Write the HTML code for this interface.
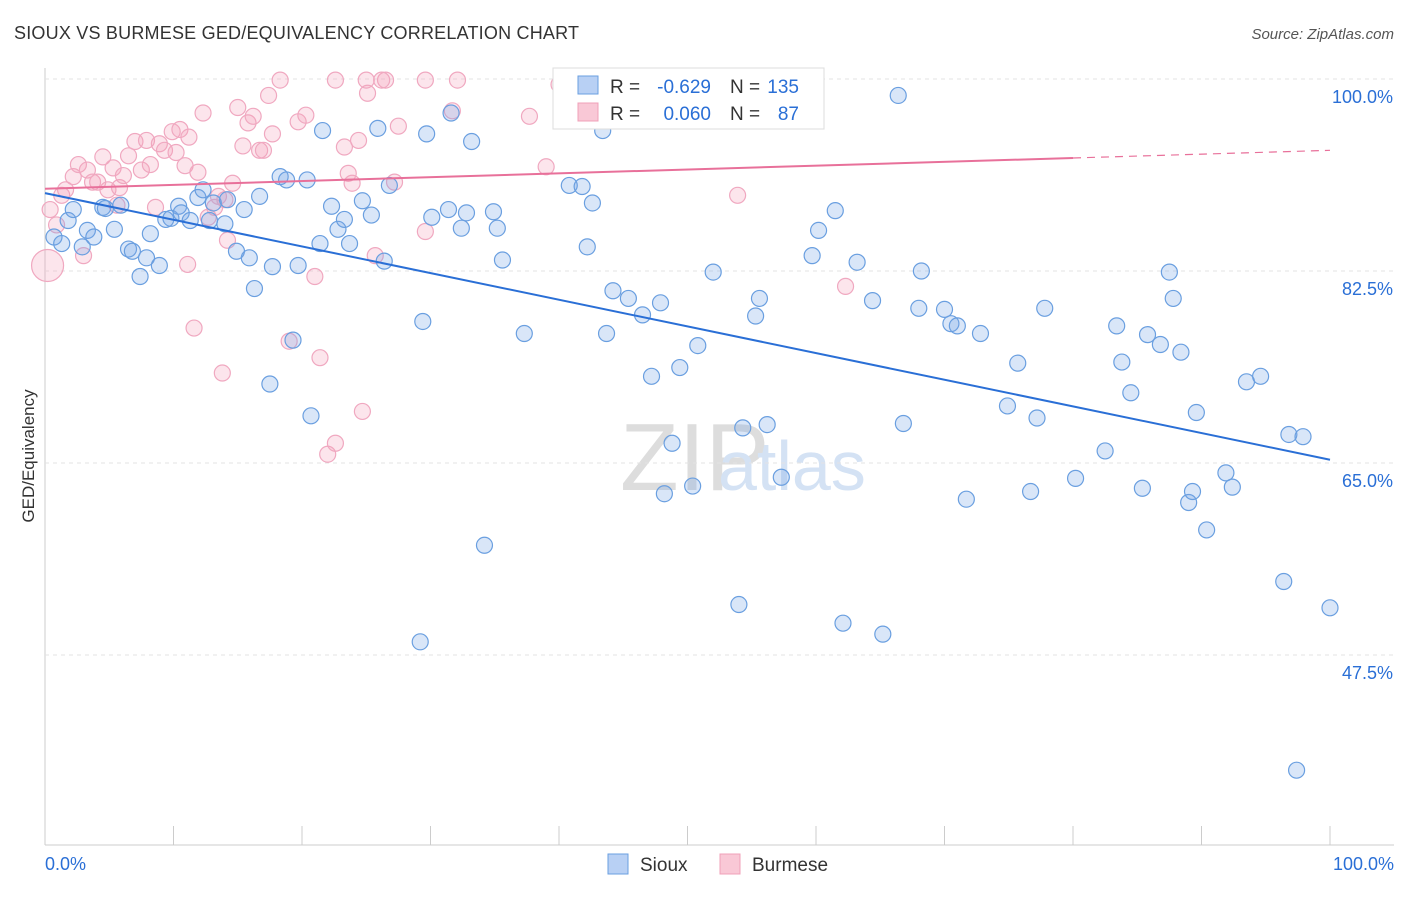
<!DOCTYPE html>
<html><head><meta charset="utf-8"><style>
body{margin:0;background:#fff;font-family:"Liberation Sans",sans-serif;}
svg text{font-family:"Liberation Sans",sans-serif;}
</style></head><body>
<svg id="c" width="1406" height="892">
<text x="14" y="39" font-size="18" fill="#333" textLength="565">SIOUX VS BURMESE GED/EQUIVALENCY CORRELATION CHART</text>
<text x="1394" y="39" font-size="15" fill="#555" text-anchor="end" font-style="italic">Source: ZipAtlas.com</text>
<text x="620" y="490" font-size="96" fill="#ddd" font-family="Liberation Serif">ZIP</text>
<text x="718" y="490" font-size="70" fill="#d4e2f4">atlas</text>
<text x="34" y="456" font-size="17" fill="#333" text-anchor="middle" transform="rotate(-90 34 456)">GED/Equivalency</text>
<g id="grid"></g><g id="pts"></g><g id="lines"></g>
<g>
<rect x="553" y="68" width="271" height="61" fill="#fff" stroke="#ddd"/>
<rect x="578" y="76" width="20" height="18" fill="#b8d0f4" stroke="#6a9fe0"/>
<text x="610" y="93" font-size="19" fill="#333">R =</text>
<text x="711" y="93" font-size="19" fill="#2a6fd6" text-anchor="end">-0.629</text>
<text x="730" y="93" font-size="19" fill="#333">N =</text>
<text x="799" y="93" font-size="19" fill="#2a6fd6" text-anchor="end">135</text>
<rect x="578" y="103" width="20" height="18" fill="#f9c8d6" stroke="#f0a0b8"/>
<text x="610" y="120" font-size="19" fill="#333">R =</text>
<text x="711" y="120" font-size="19" fill="#2a6fd6" text-anchor="end">0.060</text>
<text x="730" y="120" font-size="19" fill="#333">N =</text>
<text x="799" y="120" font-size="19" fill="#2a6fd6" text-anchor="end">87</text>
</g>
<g>
<rect x="608" y="854" width="20" height="20" fill="#b8d0f4" stroke="#6a9fe0"/>
<text x="640" y="871" font-size="19" fill="#333">Sioux</text>
<rect x="720" y="854" width="20" height="20" fill="#f9c8d6" stroke="#f0a0b8"/>
<text x="752" y="871" font-size="19" fill="#333">Burmese</text>
</g>
<text x="45" y="870" font-size="18" fill="#2a6fd6">0.0%</text>
<text x="1394" y="870" font-size="18" fill="#2a6fd6" text-anchor="end">100.0%</text>
</svg>
<script>
const yTicks=[100,82.5,65,47.5];
const yTickLabels=["100.0%","82.5%","65.0%","47.5%"];
const siouxX=[0.7,1.3,1.8,2.2,2.9,3.3,3.8,4.5,4.7,5.4,5.9,6.5,6.8,7.4,7.9,8.2,8.9,9.4,9.8,10.4,10.6,11.3,11.9,12.3,12.8,13.1,14.0,14.2,14.9,15.5,15.9,16.3,16.7,17.5,17.7,18.3,18.8,19.3,19.7,20.4,20.7,21.4,21.6,22.3,22.8,23.3,23.7,24.7,25.4,25.9,26.4,26.8,29.2,29.4,29.7,30.1,31.4,31.6,32.4,32.8,33.2,34.2,34.9,35.2,35.6,37.3,40.8,41.8,42.2,42.6,43.4,43.7,44.2,45.4,46.5,47.2,47.9,48.2,48.8,49.4,50.4,50.8,52.0,54.0,54.3,55.3,55.6,56.2,57.3,59.7,60.2,61.5,62.1,63.2,64.4,65.2,66.4,66.8,68.0,68.2,70.0,70.5,71.0,71.7,72.8,74.9,75.7,76.7,77.2,77.8,80.2,82.5,83.4,83.8,84.5,85.4,85.8,86.8,87.5,87.8,88.4,89.0,89.3,89.6,90.4,91.9,92.4,93.5,94.6,96.4,96.8,97.4,97.9,100.0];
const siouxY=[85.6,85.0,87.1,88.1,84.7,86.2,85.6,88.3,88.2,86.3,88.5,84.5,84.3,82.0,83.7,85.9,83.0,87.2,87.3,88.4,87.8,87.1,89.2,89.9,87.1,88.7,86.8,89.0,84.3,88.1,83.7,80.9,89.3,72.2,82.9,91.1,90.8,76.2,83.0,90.8,69.3,85.0,95.3,88.4,86.3,87.2,85.0,88.9,87.6,95.5,83.4,90.3,48.7,77.9,95.0,87.4,88.1,96.9,86.4,87.8,94.3,57.5,87.9,86.4,83.5,76.8,90.3,90.2,84.7,88.7,95.3,76.8,80.7,80.0,78.5,72.9,79.6,62.2,66.8,73.7,62.9,75.7,82.4,52.1,68.2,78.4,80.0,68.5,63.7,83.9,86.2,88.0,50.4,83.3,79.8,49.4,98.5,68.6,79.1,82.5,79.0,77.7,77.5,61.7,76.8,70.2,74.1,62.4,69.1,79.1,63.6,66.1,77.5,74.2,71.4,62.7,76.7,75.8,82.4,80.0,75.1,61.4,62.4,69.6,58.9,64.1,62.8,72.4,72.9,54.2,67.6,37.0,67.4,51.8];
const burmX=[0.4,0.9,1.3,1.6,2.2,2.6,3.0,3.3,3.7,4.1,4.5,4.9,5.3,5.6,5.8,6.1,6.5,7.0,7.5,7.9,8.2,8.6,8.9,9.3,9.9,10.2,10.5,10.9,11.1,11.2,11.6,11.9,12.3,12.7,13.2,13.5,13.8,14.0,14.2,14.6,15.0,15.4,15.8,16.2,16.7,17.0,17.4,17.7,18.3,19.0,19.7,20.3,21.0,21.4,22.0,22.6,23.3,23.6,23.9,24.4,24.7,25.1,25.7,26.5,27.5,27.2,29.6,29.6,31.7,32.1,37.7,39.0,40.0,53.9,62.3,22.6,25.0,26.2];
const burmY=[88.1,86.7,89.4,89.9,91.1,92.2,83.9,91.7,90.6,90.6,92.9,89.9,91.9,88.5,90.1,91.2,93.0,94.3,91.7,94.4,92.2,88.3,94.1,93.5,95.2,93.3,95.4,92.1,83.1,94.7,77.3,91.5,96.9,87.4,88.3,89.3,73.2,89.0,85.3,90.5,97.4,93.9,96.0,96.6,93.5,93.5,98.5,95.0,99.9,76.1,96.1,96.7,82.0,74.6,65.8,66.8,93.8,91.4,90.5,94.4,69.7,98.7,83.9,99.9,95.7,90.6,99.9,86.1,97.1,99.9,96.6,92.0,99.5,89.4,81.1,99.9,99.9,99.9];
const siouxTrend=[89.6,65.3];
const burmTrend=[90.0,92.8,93.5];
const NS="http://www.w3.org/2000/svg";
const X0=45,X1=1330,Y100=79,PXPER=192/17.5;
const sx=v=>X0+(X1-X0)*v/100;
const sy=v=>Y100+(100-v)*PXPER;
function mk(tag,attrs,parent){const e=document.createElementNS(NS,tag);for(const k in attrs)e.setAttribute(k,attrs[k]);parent.appendChild(e);return e;}
const grid=document.getElementById('grid');
mk('line',{x1:X0,y1:68,x2:X0,y2:845,stroke:'#ccc'},grid);
mk('line',{x1:X0,y1:845,x2:1394,y2:845,stroke:'#ccc'},grid);
for(let i=0;i<=10;i++){const l=mk('line',{x1:sx(i*10),y1:826,x2:sx(i*10),y2:845,stroke:'#ccc'},grid);

}
yTicks.forEach((t,i)=>{const l=mk('line',{x1:X0,y1:sy(t),x2:1394,y2:sy(t),stroke:'#e3e3e3','stroke-dasharray':'4,4'},grid);


const tx=mk('text',{x:1393,y:sy(t)+24,'font-size':18,fill:'#2a6fd6','text-anchor':'end'},grid);tx.textContent=yTickLabels[i];

});
const pts=document.getElementById('pts');
burmX.forEach((x,i)=>{const c=mk('circle',{cx:sx(x),cy:sy(burmY[i]),r:8,fill:'rgba(244,160,188,0.28)',stroke:'#f0a8c0','stroke-width':1.2},pts);

});
{const c=mk('circle',{cx:sx(0.2),cy:sy(83.0),r:16,fill:'rgba(244,160,188,0.28)',stroke:'#f0a8c0','stroke-width':1.2},pts);

}
siouxX.forEach((x,i)=>{const c=mk('circle',{cx:sx(x),cy:sy(siouxY[i]),r:8,fill:'rgba(120,165,230,0.28)',stroke:'#6a9fe0','stroke-width':1.2},pts);

});
const ln=document.getElementById('lines');
let a=mk('line',{x1:sx(0),y1:sy(siouxTrend[0]),x2:sx(100),y2:sy(siouxTrend[1]),stroke:'#2a6fd6','stroke-width':2},ln);


let b=mk('line',{x1:sx(0),y1:sy(burmTrend[0]),x2:sx(80),y2:sy(burmTrend[1]),stroke:'#e8709a','stroke-width':2},ln);


let d=mk('line',{x1:sx(80),y1:sy(burmTrend[1]),x2:sx(100),y2:sy(burmTrend[2]),stroke:'#e8709a','stroke-width':1.2,'stroke-dasharray':'8,6'},ln);


</script>
</body></html>
